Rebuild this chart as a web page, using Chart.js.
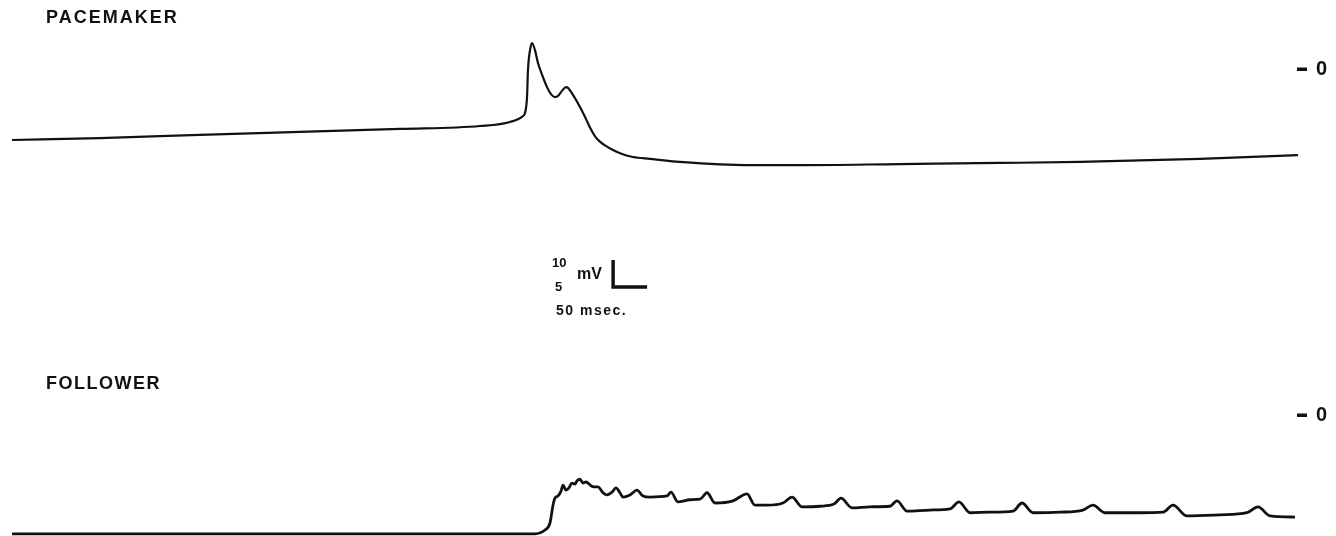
<!DOCTYPE html>
<html>
<head>
<meta charset="utf-8">
<script src="https://cdn.jsdelivr.net/npm/chart.js@4/dist/chart.umd.min.js"></script>
<style>
    body { margin: 0; background: #fff; }
    #wrap { width: 1336px; height: 536px; }
</style>
</head>
<body>
<div id="wrap"><canvas id="traceChart" width="1336" height="536"></canvas></div>

<script>
    // values, time in msec, potential in mV
    const pacemakerTime = [0, 129.4, 276.5, 423.5, 570.6, 688.2, 732.4, 751.5, 754.4, 757.4, 758.8, 761.8, 764.7,
        769.1, 773.5, 780.9, 786.8, 792.6, 798.5, 802.9, 808.8, 814.7, 817.6, 825.0, 835.3, 845.6, 850.0, 854.4,
        858.8, 864.7, 872.1, 883.8, 897.1, 913.2, 938.2, 982.4, 1085.3, 1158.8, 1305.9, 1452.9, 1570.6, 1747.1, 1891.2];
    const pacemakerMv = [-26.3, -25.6, -24.4, -23.3, -22.2, -21.1, -19.6, -17.4, -16.3, -10.4, -0.4, 7.0, 9.6,
        7.0, 2.2, -3.0, -6.7, -9.3, -10.4, -10.0, -8.1, -6.7, -7.0, -9.6, -14.1, -19.3, -21.7, -23.7,
        -25.4, -26.9, -28.3, -30.0, -31.5, -32.6, -33.3, -34.4, -35.6, -35.6, -35.2, -34.8, -34.4, -33.3, -31.9];

    const followerTime = [0, 423.5, 769.1, 783.8, 791.2, 795.6, 798.5, 802.9, 807.4, 810.3, 814.7, 819.1, 823.5,
        827.9, 830.9, 835.3, 839.7, 844.1, 847.1, 851.5, 855.9, 861.8, 869.1, 875.0, 882.4, 888.2, 894.1, 898.5,
        908.8, 919.1, 927.9, 938.2, 963.2, 969.1, 979.4, 997.1, 1011.8, 1022.1, 1033.8, 1060.3, 1080.9, 1092.6,
        1110.3, 1133.8, 1147.1, 1161.8, 1188.2, 1208.8, 1219.1, 1235.3, 1261.8, 1291.2, 1301.5, 1316.2, 1350.0,
        1379.4, 1392.6, 1408.8, 1438.2, 1472.1, 1485.3, 1501.5, 1541.2, 1575.0, 1589.7, 1607.4, 1658.8, 1692.6,
        1707.4, 1727.9, 1776.5, 1816.2, 1832.4, 1850.0, 1886.8];
    const followerMv = [-22.0, -22.0, -22.0, -21.3, -20.0, -16.7, -15.4, -15.0, -14.1, -13.0, -13.9, -13.5, -12.6,
        -12.8, -12.2, -11.9, -12.6, -12.4, -12.6, -13.1, -13.3, -13.3, -14.4, -14.8, -14.3, -13.5, -14.4, -15.2,
        -14.8, -13.9, -15.0, -15.2, -15.0, -14.3, -16.1, -15.7, -15.6, -14.4, -16.3, -15.9, -14.6, -16.7,
        -16.7, -16.3, -15.2, -17.0, -16.9, -16.5, -15.4, -17.2, -17.0, -16.9, -15.9, -17.8, -17.6,
        -17.4, -16.1, -18.1, -18.0, -17.8, -16.3, -18.1, -18.0, -17.6, -16.7, -18.1, -18.1, -18.0,
        -16.7, -18.7, -18.5, -18.1, -17.0, -18.7, -18.9];

    const traceLabels = ['PACEMAKER', 'FOLLOWER'];
    const zeroLabel = '0';
    const scaleBarMv = [10, 5];      // pacemaker / follower
    const scaleBarMs = 50;
    const scaleBarAt = [884, -80.7]; // msec, mV on pacemaker axis

    const toPoints = (t, v) => t.map((x, i) => ({ x: x, y: v[i] }));

    const labelsPlugin = {
        id: 'recordingLabels',
        afterDraw(chart) {
            const ctx = chart.ctx;
            const xs = chart.scales.x, yp = chart.scales.yP, yf = chart.scales.yF;
            ctx.save();
            ctx.fillStyle = '#111';
            ctx.strokeStyle = '#111';
            ctx.textBaseline = 'middle';

            ctx.font = 'bold 18px "Liberation Sans", Arial, sans-serif';
            ctx.letterSpacing = '2px';
            ctx.fillText(traceLabels[0], 46, 18);
            ctx.letterSpacing = '1.5px';
            ctx.fillText(traceLabels[1], 46, 384);
            ctx.letterSpacing = '0px';

            // zero markers
            ctx.font = 'bold 20px "Liberation Sans", Arial, sans-serif';
            [yp.getPixelForValue(0), yf.getPixelForValue(0)].forEach(function (py) {
                ctx.fillRect(1297, py - 1.5, 10, 3.5);
                ctx.fillText(zeroLabel, 1316, py);
            });

            // scale bar
            const bx = xs.getPixelForValue(scaleBarAt[0]);
            const bx2 = xs.getPixelForValue(scaleBarAt[0] + scaleBarMs);
            const by = yp.getPixelForValue(scaleBarAt[1]);
            const by2 = yp.getPixelForValue(scaleBarAt[1] + scaleBarMv[0]);
            ctx.lineWidth = 3.5;
            ctx.lineCap = 'butt';
            ctx.beginPath();
            ctx.moveTo(bx, by2);
            ctx.lineTo(bx, by);
            ctx.lineTo(bx2, by);
            ctx.stroke();

            ctx.font = 'bold 13px "Liberation Sans", Arial, sans-serif';
            ctx.fillText(String(scaleBarMv[0]), 552, 263);
            ctx.fillText(String(scaleBarMv[1]), 555, 287);
            ctx.font = 'bold 16px "Liberation Sans", Arial, sans-serif';
            ctx.fillText('mV', 577, 275);
            ctx.font = 'bold 14px "Liberation Sans", Arial, sans-serif';
            ctx.letterSpacing = '1.5px';
            ctx.fillText(scaleBarMs + ' msec.', 556, 311);
            ctx.restore();
        }
    };

    const traceChart = new Chart(document.getElementById('traceChart'), {
        type: 'line',
        data: {
            datasets: [{
                label: traceLabels[0],
                data: toPoints(pacemakerTime, pacemakerMv),
                yAxisID: 'yP',
                borderColor: '#111',
                borderWidth: 2.2,
                pointRadius: 0,
                cubicInterpolationMode: 'monotone',
                clip: false
            }, {
                label: traceLabels[1],
                data: toPoints(followerTime, followerMv),
                yAxisID: 'yF',
                borderColor: '#111',
                borderWidth: 2.8,
                pointRadius: 0,
                cubicInterpolationMode: 'monotone',
                clip: false
            }]
        },
        options: {
            responsive: false,
            animation: false,
            layout: { padding: 0 },
            plugins: { legend: { display: false }, tooltip: { enabled: false } },
            scales: {
                x: { type: 'linear', display: false, min: -17.65, max: 1947.1 },
                yP: { type: 'linear', display: false, min: -172.96, max: 25.56 },
                yF: { type: 'linear', display: false, min: -22.41, max: 76.85 }
            }
        },
        plugins: [labelsPlugin]
    });
</script>
</body>
</html>
